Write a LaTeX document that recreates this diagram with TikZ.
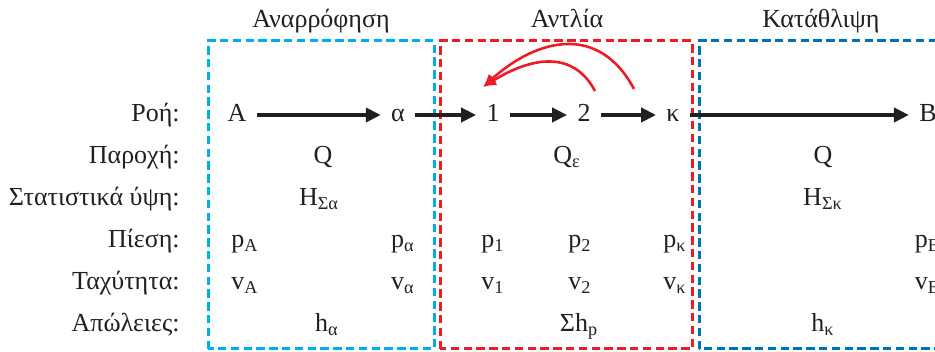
\documentclass[tikz,border=0pt]{standalone}
\usepackage{fontspec}
\setmainfont{Liberation Serif}
\usetikzlibrary{arrows.meta}
\definecolor{ink}{HTML}{231F20}
\definecolor{suction}{HTML}{00AEEF}
\definecolor{pumpred}{HTML}{ED1C24}
\definecolor{delivery}{HTML}{0072BC}
\newcommand{\BodyF}{\fontsize{13}{16}\selectfont}
\newcommand{\ix}[1]{\textsubscript{#1}}
\newcommand{\pvpair}[3]{%
  \node[val] (p-#3) at (#1,104) {p\ix{#2}};
  \node[val] (v-#3) at (#1,62) {v\ix{#2}};
}

\begin{document}
\begin{tikzpicture}[x=0.5pt,y=0.5pt,
  lbl/.style={anchor=base east, font=\BodyF, text=ink, inner sep=0pt},
  val/.style={anchor=base, font=\BodyF, text=ink, inner sep=0pt},
  pnt/.style={anchor=base, font=\BodyF, text=ink, inner sep=5pt, text height=7pt, text depth=0pt},
  flow/.style={-{Triangle[length=7.5pt,width=7pt]}, line width=2pt, draw=ink},
  recirc/.style={-{Latex[length=6.5pt,width=6pt]}, line width=1.3pt, draw=pumpred},
  zone/.style={dash pattern=on 4.2pt off 2.2pt, line width=1.5pt}]
\useasboundingbox (0,0) rectangle (935,352);
\clip (0,0) rectangle (935,352);

% zones
\draw[zone, suction] (208,3) rectangle (434,311);
\draw[zone, pumpred] (440,3) rectangle (692,311);
\draw[zone, delivery] (699,3) rectangle (980,311);
\node[val] (t-suc) at (321,324) {Αναρρόφηση};
\node[val] (t-pump) at (567,324) {Αντλία};
\node[val] (t-del) at (821,324) {Κατάθλιψη};

% row labels
\node[lbl] (l-flow) at (180,230) {Ροή:};
\node[lbl] (l-rate) at (180,188) {Παροχή:};
\node[lbl] (l-head) at (180,146) {Στατιστικά ύψη:};
\node[lbl] (l-press) at (180,104) {Πίεση:};
\node[lbl] (l-vel) at (180,62) {Ταχύτητα:};
\node[lbl] (l-loss) at (180,20) {Απώλειες:};

% flow line
\node[pnt] (A) at (237,230) {A};
\node[pnt] (a) at (398,230) {α};
\node[pnt] (n1) at (493,230) {1};
\node[pnt] (n2) at (584,230) {2};
\node[pnt] (k) at (673,230) {κ};
\node[pnt] (B) at (928,230) {B};
\draw[flow] (A) -- (a);
\draw[flow] (a) -- (n1);
\draw[flow] (n1) -- (n2);
\draw[flow] (n2) -- (k);
\draw[flow] (k) -- (B);

% recirculation
\coordinate (r-tip) at (483,265);
\coordinate (r-in) at (595,261);
\coordinate (r-out) at (634,263);
\draw[recirc] (r-in) to[out=118,in=32,looseness=1.15] (r-tip);
\draw[recirc] (r-out) to[out=118,in=42,looseness=1.25] (r-tip);

% quantities
\node[val] (q-suc) at (323,188) {Q};
\node[val] (q-pump) at (567,188) {Q\ix{ε}};
\node[val] (q-del) at (823,188) {Q};
\node[val] (h-suc) at (319,146) {H\ix{Σα}};
\node[val] (h-del) at (823,146) {H\ix{Σκ}};
\pvpair{245}{A}{A}
\pvpair{403}{α}{a}
\pvpair{493}{1}{1}
\pvpair{580}{2}{2}
\pvpair{675}{κ}{k}
\pvpair{928}{B}{B}
\node[val] (loss-suc) at (327,20) {h\ix{α}};
\node[val] (loss-pump) at (579,20) {Σh\ix{p}};
\node[val] (loss-del) at (823,20) {h\ix{κ}};
\end{tikzpicture}
\end{document}
